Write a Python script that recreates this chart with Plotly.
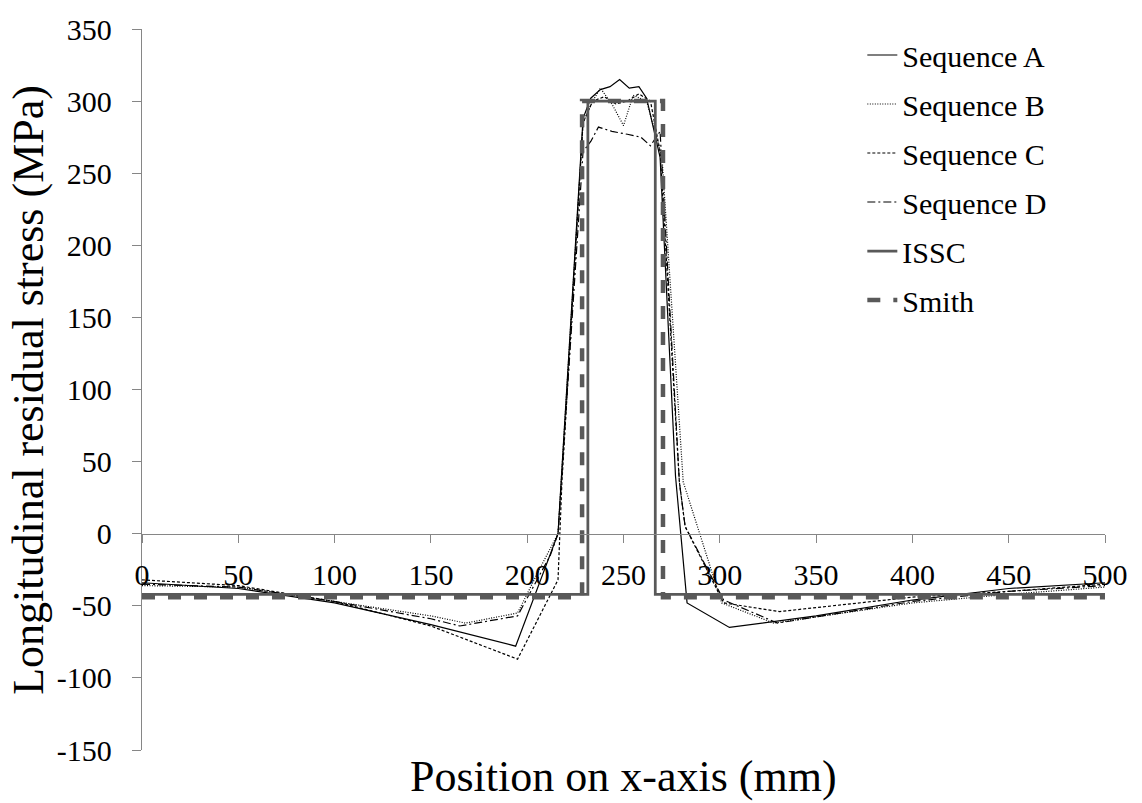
import plotly.graph_objects as go

# ---- data ----
a_x = [0, 50, 100, 150, 194, 216, 229, 233, 238, 243, 248, 253, 258, 262, 269, 277, 283, 305, 350, 400, 450, 500]
a_y = [-34, -38, -48, -63, -78, 0, 288, 302, 308, 310, 315, 309, 310, 302, 261, 40, -48, -65, -57, -46, -38, -34]

b_x = [0, 50, 100, 150, 168, 195, 207, 216, 229, 234, 238, 244, 250, 255, 262, 270, 281, 301, 328, 400, 450, 500]
b_y = [-36, -37, -47, -57, -62, -55, -23, 0, 285, 300, 309, 298, 283, 304, 300, 261, 36, -48, -62, -48, -42, -37]

c_x = [0, 50, 100, 150, 195, 216, 218, 229, 234, 240, 246, 252, 258, 264, 269, 279, 282, 302, 331, 400, 450, 500]
c_y = [-32, -36, -47, -64, -87, -32, 35, 285, 300, 303, 298, 300, 305, 300, 265, 36, 5, -48, -54, -44, -40, -35]

d_x = [0, 50, 100, 150, 165, 195, 212, 216, 229, 233, 237, 244, 252, 259, 264, 269, 279, 282, 302, 330, 400, 450, 500]
d_y = [-35, -37, -47, -59, -64, -57, -15, 0, 265, 272, 282, 279, 277, 275, 269, 279, 36, 5, -46, -62, -47, -40, -36]

issc_x = [0, 231.5, 231.5, 266.5, 266.5, 500]
issc_y = [-42, -42, 300, 300, -42, -42]

smith_x = [0, 228.5, 228.5, 270.5, 270.5, 500]
smith_y = [-44, -44, 300, 300, -44, -44]

x_ticks = [0, 50, 100, 150, 200, 250, 300, 350, 400, 450, 500]
y_ticks = [-150, -100, -50, 0, 50, 100, 150, 200, 250, 300, 350]

x_title = "Position on x-axis (mm)"
y_title = "Longitudinal residual stress (MPa)"

FONT = "Liberation Serif, Times New Roman, serif"
AXC = "#868686"
GREY = "#595959"

fig = go.Figure()
series = [
    ("Sequence A", a_x, a_y, dict(color="black", width=1.2, dash="solid")),
    ("Sequence B", b_x, b_y, dict(color="black", width=1.2, dash="1px,1.5px")),
    ("Sequence C", c_x, c_y, dict(color="black", width=1.2, dash="3px,2px")),
    ("Sequence D", d_x, d_y, dict(color="black", width=1.2, dash="8px,3px,2px,3px")),
    ("ISSC", issc_x, issc_y, dict(color=GREY, width=2.75, dash="solid")),
    ("Smith", smith_x, smith_y, dict(color=GREY, width=4.5, dash="13px,13px")),
]
for i, (name, xs, ys, ln) in enumerate(series):
    fig.add_trace(go.Scatter(x=xs, y=ys, mode="lines", name=name, line=ln,
                             legendgroup=f"g{i}"))

fig.update_layout(
    width=1142, height=803,
    margin=dict(l=142, r=37, t=20, b=53),
    paper_bgcolor="white", plot_bgcolor="white",
    font=dict(family=FONT, size=30, color="black"),
    showlegend=True,
    legend=dict(x=0.748, y=1.0, xanchor="left", yanchor="top",
                traceorder="grouped", tracegroupgap=7,
                font=dict(family=FONT, size=30, color="black"),
                bgcolor="rgba(0,0,0,0)"),
    xaxis=dict(range=[0, 500], tickvals=x_ticks, ticktext=[str(v) for v in x_ticks],
               showgrid=False, zeroline=False, showline=True, linecolor=AXC, linewidth=1.3,
               ticks="outside", ticklen=8, tickcolor=AXC, tickwidth=1.3,
               anchor="free", position=0.3, ticklabelstandoff=6,
               tickfont=dict(family=FONT, size=30, color="black")),
    yaxis=dict(range=[-150, 350], tickvals=y_ticks, ticktext=[str(v) for v in y_ticks],
               showgrid=False, zeroline=False, showline=True, linecolor=AXC, linewidth=1.3,
               ticks="outside", ticklen=9, tickcolor=AXC, tickwidth=1.3,
               ticklabelstandoff=14,
               tickfont=dict(family=FONT, size=30, color="black")),
)

fig.add_annotation(text=x_title, xref="paper", yref="paper", x=0.5, y=-0.037,
                   xanchor="center", yanchor="middle", showarrow=False,
                   font=dict(family=FONT, size=44, color="black"))
fig.add_annotation(text=y_title, xref="paper", yref="paper", x=-0.118, y=0.5,
                   xanchor="center", yanchor="middle", textangle=-90, showarrow=False,
                   font=dict(family=FONT, size=44, color="black"))

fig.write_html("out.html")
